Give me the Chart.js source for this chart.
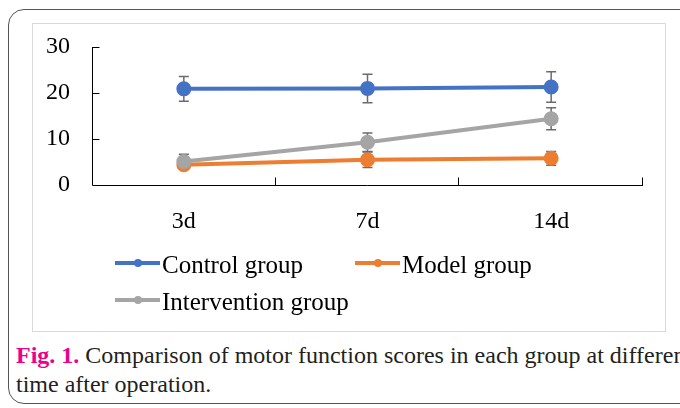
<!DOCTYPE html>
<html>
<head>
<meta charset="utf-8">
<script src="https://cdn.jsdelivr.net/npm/chart.js@4"></script>
<style>
body { margin: 0; background: #fff; width: 680px; height: 408px; overflow: hidden; position: relative; font-family: 'Liberation Serif', serif; }
#frame { position: absolute; left: 8px; top: 9px; width: 690px; height: 393px; border: 1.5px solid #555; border-radius: 16px; }
#panel { position: absolute; left: 32px; top: 23px; width: 632px; height: 307px; border: 1px solid #d9d9d9; }
#wrap { position: absolute; left: 32px; top: 23px; width: 634px; height: 308px; }
.leg { position: absolute; font-family: 'Liberation Serif', serif; font-size: 25px; color: #000; white-space: nowrap; line-height: 25px; }
.leg i { display: inline-block; position: relative; width: 45px; height: 4px; vertical-align: middle; margin-right: 2px; top: -4px; }
.leg i b { position: absolute; left: 19px; top: -2px; width: 8px; height: 8px; border-radius: 50%; background: inherit; }
#cap { position: absolute; left: 16px; top: 341px; font-family: 'Liberation Serif', serif; font-size: 24px; line-height: 29px; white-space: nowrap; color: #231f20; }
#cap span { color: #ec008c; font-weight: bold; }
</style>
</head>
<body>
<div id="frame"></div>
<div id="panel"></div>
<div id="wrap"><canvas id="chart"></canvas></div>
<div id="legend"></div>
<div id="cap"><span>Fig. 1.</span> Comparison of motor function scores in each group at different<br>time after operation.</div>
<script>
var days = ["3d", "7d", "14d"];
var control = [20.9, 21.0, 21.3];
var controlErr = [2.7, 3.1, 3.3];
var model = [4.4, 5.5, 5.8];
var modelErr = [0.6, 1.7, 1.5];
var intervention = [5.1, 9.3, 14.4];
var interventionErr = [1.6, 2.0, 2.4];
var yTicks = [0, 10, 20, 30];

var names = ["Control group", "Model group", "Intervention group"];
var colors = ["#4472C4", "#ED7D31", "#A5A5A5"];
var values = [control, model, intervention];
var errors = [controlErr, modelErr, interventionErr];

Chart.defaults.font.family = "'Liberation Serif', serif";

// legend laid out like the original (two columns)
var legPos = [[115, 252], [355, 252], [115, 289]];
var legend = document.getElementById("legend");
for (var k = 0; k < names.length; k++) {
	var d = document.createElement("div");
	d.className = "leg";
	d.style.left = legPos[k][0] + "px";
	d.style.top = legPos[k][1] + "px";
	d.innerHTML = '<i style="background:' + colors[k] + '"><b></b></i>' + names[k];
	legend.appendChild(d);
}

var errorBars = {
	id: "errorBars",
	beforeDatasetsDraw: function(chart) {
		var ctx = chart.ctx;
		var y = chart.scales.y;
		ctx.save();
		ctx.strokeStyle = "#6b6b6b";
		ctx.lineWidth = 1.5;
		chart.data.datasets.forEach(function(ds, i) {
			var meta = chart.getDatasetMeta(i);
			meta.data.forEach(function(pt, j) {
				var v = ds.data[j], e = ds.err[j];
				var top = y.getPixelForValue(v + e), bot = y.getPixelForValue(v - e);
				ctx.beginPath();
				ctx.moveTo(pt.x, top); ctx.lineTo(pt.x, bot);
				ctx.moveTo(pt.x - 5, top); ctx.lineTo(pt.x + 5, top);
				ctx.moveTo(pt.x - 5, bot); ctx.lineTo(pt.x + 5, bot);
				ctx.stroke();
			});
		});
		ctx.restore();
	}
};

// axes with inward tick marks
var axes = {
	id: "axes",
	afterDraw: function(chart) {
		var ctx = chart.ctx, a = chart.chartArea;
		var y = chart.scales.y;
		var L = Math.round(a.left) + 0.5, B = Math.round(a.bottom) + 0.5;
		ctx.save();
		ctx.strokeStyle = "#000";
		ctx.lineWidth = 1;
		ctx.beginPath();
		ctx.moveTo(L, y.getPixelForValue(30)); ctx.lineTo(L, B); ctx.lineTo(a.right, B);
		yTicks.forEach(function(t) {
			if (t === 0) return;
			var py = Math.round(y.getPixelForValue(t)) + 0.5;
			ctx.moveTo(L, py); ctx.lineTo(L + 7, py);
		});
		var w = (a.right - a.left) / days.length;
		for (var i = 1; i <= days.length; i++) {
			var px = Math.round(a.left + w * i) - 0.5;
			ctx.moveTo(px, B); ctx.lineTo(px, B - 8);
		}
		ctx.stroke();
		ctx.restore();
	}
};

var datasets = [];
for (var k = 0; k < names.length; k++) {
	datasets.push({
		label: names[k],
		data: values[k],
		err: errors[k],
		borderColor: colors[k],
		backgroundColor: colors[k],
		borderWidth: 4,
		pointRadius: 5.5,
		pointHoverRadius: 5.5,
		tension: 0,
		order: names.length - k
	});
}

new Chart(document.getElementById("chart"), {
	type: "line",
	data: { labels: days, datasets: datasets },
	plugins: [errorBars, axes],
	options: {
		responsive: true,
		maintainAspectRatio: false,
		animation: false,
		layout: { padding: { top: 24, right: 23, left: 0, bottom: 0 } },
		plugins: { legend: { display: false }, tooltip: { enabled: false } },
		scales: {
			x: {
				offset: true,
				grid: { display: false },
				border: { display: false },
				ticks: { color: "#000", padding: 14, font: { size: 24 } },
				afterFit: function(s) { s.height = 146; }
			},
			y: {
				min: 0, max: 30,
				afterBuildTicks: function(s) { s.ticks = yTicks.map(function(v) { return { value: v }; }); },
				grid: { display: false, tickLength: 16 },
				border: { display: false },
				ticks: { color: "#000", padding: 6, font: { size: 24 } },
				afterFit: function(s) { s.width = 60; }
			}
		}
	}
});
</script>
</body>
</html>
